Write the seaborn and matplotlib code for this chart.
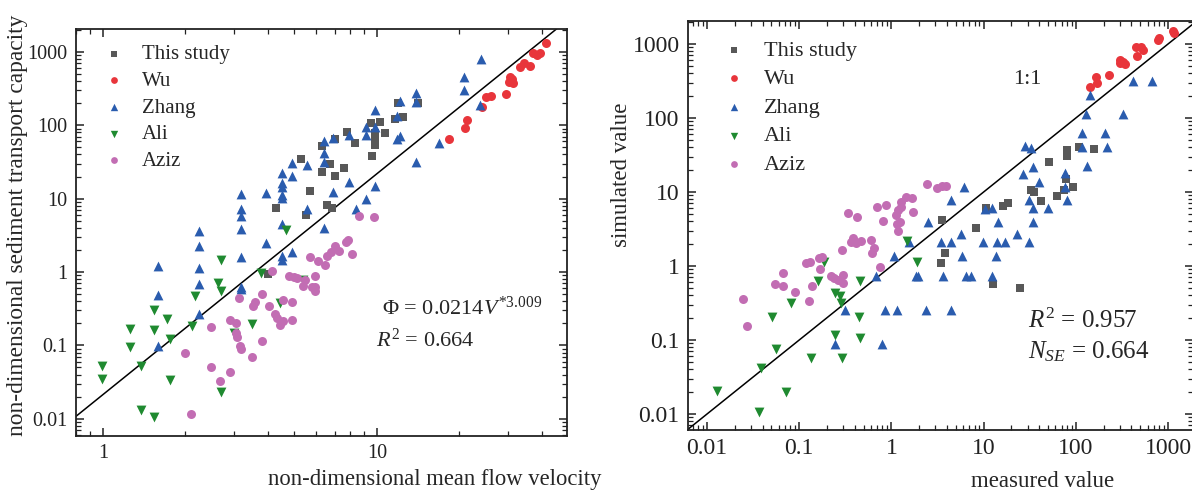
import numpy as np
import pandas as pd
import matplotlib
matplotlib.use("Agg")
import matplotlib.pyplot as plt
import seaborn as sns
from matplotlib.ticker import LogLocator, NullFormatter, FixedLocator, FixedFormatter

# ---------------- data: left panel (V*, Phi) ----------------
ts_v = [4.28, 5.26, 5.69, 5.49, 6.30, 6.31, 6.72, 7.03, 7.03, 6.55, 6.87, 7.60, 7.77, 8.34, 9.51,
        9.86, 9.80, 9.80, 9.61, 10.3, 10.7, 11.6, 12.5, 11.9, 14.1, 3.99]
ts_phi = [7.45, 35.0, 12.8, 5.92, 52.6, 22.8, 29.6, 64.2, 20.3, 8.18, 7.37, 25.8, 80.8, 57.2, 107,
          79.1, 62.9, 54.3, 38.5, 109, 79.1, 122, 128, 199, 203, 0.93]
wu_v = [18.4, 20.9, 21.3, 24.2, 25.1, 26.0, 29.5, 30.3, 30.7, 31.4, 31.0, 33.3, 34.4, 36.2, 37.2,
        38.5, 39.4, 41.4]
wu_phi = [64.2, 90.6, 118, 175, 245, 250, 263, 392, 458, 379, 422, 614, 697, 641, 953, 904, 973, 1303]
zh_v = [24.0, 20.7, 20.7, 23.8, 16.8, 13.9, 13.9, 13.9, 12.1, 11.8, 12.1, 11.8, 9.83, 9.12, 9.83,
        9.09, 7.88, 6.93, 6.42, 6.42, 6.42, 5.54, 4.89, 4.89, 4.51, 4.51, 4.51, 4.51, 4.51, 3.92,
        3.19, 3.19, 3.19, 3.19, 2.24, 6.93, 7.88, 9.83, 9.09, 8.36, 5.54, 4.51, 6.42, 2.24, 3.19,
        3.92, 4.51, 4.51, 4.89, 1.59, 1.59, 1.59, 2.24, 2.24, 2.24, 3.19, 3.19]
zh_phi = [789, 458, 302, 190, 57.8, 272, 209, 31.9, 216, 133, 71.3, 64.2, 160, 95.5, 95.5,
          72.8, 72.8, 66.2, 61.5, 41.4, 31.2, 28.7, 30.9, 20.3, 22.6, 16.1, 14.5, 11.2, 10.1, 12.0,
          11.4, 7.21, 5.85, 3.85, 3.62, 12.4, 17.0, 15.0, 9.88, 7.21, 7.21, 4.46, 3.98, 2.29, 1.62,
          2.51, 1.67, 1.46, 1.85, 1.19, 0.491, 0.099, 1.12, 0.686, 0.268, 0.63, 0.586]
ali_v = [4.65, 2.69, 2.62, 2.69, 3.76, 2.17, 4.41, 5.39, 1.53, 1.71, 2.12, 3.51, 1.75, 1.25, 1.25,
         1.53, 3.02, 1.38, 0.99, 0.99, 1.75, 2.69, 1.38, 1.53]
ali_phi = [3.74, 1.46, 0.716, 0.551, 0.96, 0.466, 0.374, 0.778, 0.303, 0.229, 0.186, 0.198, 0.122,
           0.167, 0.095, 0.160, 0.146, 0.0524, 0.0524, 0.0344, 0.0334, 0.0234, 0.0130, 0.0106]
az_v = [7.86, 7.71, 8.13, 7.29, 7.03, 6.78, 6.59, 5.69, 6.07, 6.46, 5.92, 5.92, 5.95, 5.78, 5.39,
        5.46, 5.12, 4.98, 4.79, 4.15, 3.79, 3.60, 3.52, 3.14, 4.05, 4.55, 4.89, 4.24, 4.30, 4.53,
        4.43, 4.89, 2.91, 3.07, 3.07, 3.09, 3.16, 3.20, 2.47, 3.82, 3.49, 2.00, 2.47, 2.92, 2.67,
        2.09, 8.57, 9.72]
az_phi = [2.73, 2.54, 1.78, 1.93, 2.28, 1.89, 1.67, 1.62, 1.41, 1.25, 0.88, 0.63, 0.557, 0.63, 0.644,
          0.77, 0.82, 0.86, 0.89, 1.03, 0.496, 0.386, 0.348, 0.447, 0.348, 0.411, 0.394, 0.265,
          0.234, 0.215, 0.190, 0.224, 0.222, 0.200, 0.146, 0.130, 0.099, 0.089, 0.180, 0.115,
          0.070, 0.078, 0.0513, 0.0439, 0.033, 0.0116, 5.86, 5.56]

# fitted relation  Phi = a * V^b
fit_a = 0.0214
fit_b = 3.009

# ---------------- data: right panel (measured, simulated) ----------------
ts_meas = [79.8, 81.1, 107, 158, 51.4, 78.0, 93.6, 63.2, 74.7, 33.0, 35.3, 41.7, 18.4, 16.3, 10.6,
           3.58, 8.36, 3.79, 3.43, 12.7, 24.7]
ts_sim = [36.9, 30.7, 41.0, 38.1, 25.7, 14.8, 11.6, 8.83, 10.6, 10.6, 10.1, 7.56, 7.03, 6.47, 6.02,
          4.19, 3.30, 1.48, 1.11, 0.577, 0.509]
wu_meas = [143, 169, 166, 229, 301, 327, 342, 301, 457, 450, 540, 506, 785, 805, 1143, 1170]
wu_sim = [265, 294, 355, 378, 548, 576, 531, 608, 695, 902, 830, 920, 1132, 1217, 1514, 1421]
zh_meas = [412, 669, 142, 128, 321, 116, 208, 118, 217, 131, 28.2, 32.5, 33.9, 26.8, 39.4, 76.6,
           76.6, 81.2, 31.2, 33.9, 50.1, 33.9, 10.4, 12.3, 6.14, 4.48, 2.50, 14.5, 5.70, 23.3, 3.49,
           4.40, 9.88, 14.1, 17.0, 31.2, 1.56, 1.07, 5.89, 13.6, 0.687, 1.87, 1.96, 3.64, 6.41, 7.26,
           12.2, 0.312, 0.853, 1.16, 2.40, 4.48, 0.243, 0.785]
zh_sim = [320, 320, 205, 112, 112, 63.4, 63.4, 41.0, 41.0, 22.5, 41.8, 38.9, 22.0, 17.5, 13.8, 17.9,
          11.6, 7.80, 7.80, 6.14, 6.14, 3.97, 5.89, 6.14, 11.6, 7.80, 3.97, 3.97, 2.71, 2.71, 2.13,
          2.13, 2.13, 2.13, 2.13, 2.13, 2.09, 1.37, 1.37, 1.37, 0.732, 0.740, 0.740, 0.732, 0.732,
          0.732, 0.732, 0.254, 0.254, 0.254, 0.254, 0.254, 0.0883, 0.0883]
ali_meas = [0.186, 1.49, 1.91, 0.161, 0.453, 0.243, 0.277, 0.282, 0.0809, 0.0512, 0.446, 0.243,
            0.453, 0.0556, 0.133, 0.289, 0.0382, 0.0129, 0.0714, 0.0367]
ali_sim = [1.14, 2.18, 1.14, 0.627, 0.627, 0.427, 0.397, 0.313, 0.313, 0.207, 0.207, 0.117, 0.108,
           0.0756, 0.0565, 0.0565, 0.0423, 0.0205, 0.0196, 0.0108]
az_meas = [2.46, 3.16, 3.58, 3.95, 1.43, 1.69, 1.28, 1.26, 0.869, 0.693, 1.72, 1.18, 1.13, 0.341,
           0.428, 0.812, 1.23, 1.19, 0.384, 0.368, 0.410, 0.465, 0.597, 0.289, 0.649, 0.622, 0.164,
           0.178, 0.118, 0.130, 0.747, 0.167, 0.220, 0.239, 0.299, 0.266, 0.299, 0.0668, 0.0542,
           0.0673, 0.139, 0.0901, 0.128, 0.0246, 0.0274, 1.16]
az_sim = [12.7, 11.2, 12.1, 12.1, 8.65, 8.21, 7.40, 6.34, 6.67, 6.21, 5.42, 5.71, 4.89, 5.15, 4.64,
          4.06, 3.97, 2.97, 2.41, 2.13, 2.02, 2.18, 2.25, 1.64, 1.73, 1.48, 1.30, 1.34, 1.09, 1.12,
          0.98, 0.910, 0.740, 0.681, 0.755, 0.647, 0.583, 0.796, 0.565, 0.542, 0.542, 0.441, 0.337,
          0.358, 0.155, 3.66]

series = ["This study", "Wu", "Zhang", "Ali", "Aziz"]
colors = {"This study": "#585858", "Wu": "#e8353b", "Zhang": "#2a5cae",
          "Ali": "#1f8a30", "Aziz": "#c26db3"}
markers = {"This study": "s", "Wu": "o", "Zhang": "^", "Ali": "v", "Aziz": "o"}
sizes = {"This study": 32, "Wu": 42, "Zhang": 50, "Ali": 50, "Aziz": 42}

left_data = {"This study": (ts_v, ts_phi), "Wu": (wu_v, wu_phi), "Zhang": (zh_v, zh_phi),
             "Ali": (ali_v, ali_phi), "Aziz": (az_v, az_phi)}
right_data = {"This study": (ts_meas, ts_sim), "Wu": (wu_meas, wu_sim), "Zhang": (zh_meas, zh_sim),
              "Ali": (ali_meas, ali_sim), "Aziz": (az_meas, az_sim)}

# ---------------- style ----------------
sns.set_style("ticks")
plt.rcParams["font.family"] = ["Liberation Serif", "DejaVu Serif"]
plt.rcParams["mathtext.fontset"] = "custom"
plt.rcParams["mathtext.rm"] = "Liberation Serif"
plt.rcParams["mathtext.it"] = "Liberation Serif:italic"
plt.rcParams["mathtext.bf"] = "Liberation Serif:bold"
plt.rcParams["axes.linewidth"] = 1.3
plt.rcParams["axes.edgecolor"] = "#222222"

fig = plt.figure(figsize=(11.92, 4.93), dpi=100)
ax1 = fig.add_axes([76 / 1192, 1 - 436 / 493, (567 - 76) / 1192, (436 - 29) / 493])
ax2 = fig.add_axes([688 / 1192, 1 - 430 / 493, (1193 - 688) / 1192, (430 - 21) / 493])


def draw(ax, data):
    for name in series:
        x, y = data[name]
        df = pd.DataFrame({"x": x, "y": y})
        sns.scatterplot(data=df, x="x", y="y", ax=ax, marker=markers[name], color=colors[name],
                        s=sizes[name], linewidth=0, label=name, zorder=3)


def style_axes(ax, tick_fs):
    ax.set_xscale("log")
    ax.set_yscale("log")
    ax.tick_params(which="both", direction="in", top=True, right=True, colors="#222222")
    ax.tick_params(which="major", length=6, width=1.1, labelsize=tick_fs, pad=6)
    ax.tick_params(which="minor", length=3.5, width=0.9)
    ax.xaxis.set_minor_locator(LogLocator(base=10, subs=np.arange(2, 10), numticks=20))
    ax.yaxis.set_minor_locator(LogLocator(base=10, subs=np.arange(2, 10), numticks=20))
    ax.xaxis.set_minor_formatter(NullFormatter())
    ax.yaxis.set_minor_formatter(NullFormatter())
    for sp in ax.spines.values():
        sp.set_visible(True)


# ----- left panel -----
draw(ax1, left_data)
xlim1 = (0.797, 49.4)
ax1.set_xlim(*xlim1)
ax1.set_ylim(0.00583, 2046)
vv = np.logspace(np.log10(xlim1[0]), np.log10(xlim1[1]), 200)
ax1.plot(vv, fit_a * vv ** fit_b, color="black", lw=1.1, zorder=2)
style_axes(ax1, 14.5)
ax1.xaxis.set_major_locator(FixedLocator([1, 10]))
ax1.xaxis.set_major_formatter(FixedFormatter(["1", "10"]))
ax1.yaxis.set_major_locator(FixedLocator([0.01, 0.1, 1, 10, 100, 1000]))
ax1.yaxis.set_major_formatter(FixedFormatter(["0.01", "0.1", "1", "10", "100", "1000"]))
ax1.set_xlabel("non-dimensional mean flow velocity", fontsize=16.3)
ax1.xaxis.set_label_coords(0.731, -0.082)
ax1.set_ylabel("non-dimensional sediment transport capacity", fontsize=16.8)
ax1.yaxis.set_label_coords(-0.098, 0.518)
ax1.text(0.623, 0.314, r"$\Phi$ = 0.0214$V^{*3.009}$", transform=ax1.transAxes,
         fontsize=16, va="center", ha="left")
ax1.text(0.611, 0.236, r"$R^2$ = 0.664", transform=ax1.transAxes,
         fontsize=16, va="center", ha="left")
ax1.legend(loc="upper left", bbox_to_anchor=(0.017, 0.982), frameon=False, fontsize=15,
           handletextpad=0.35, labelspacing=0.34, markerscale=0.75, borderaxespad=0)

# ----- right panel -----
draw(ax2, right_data)
xlim2 = (0.00622, 1866)
ax2.set_xlim(*xlim2)
ax2.set_ylim(0.00608, 2046)
oo = np.logspace(np.log10(xlim2[0]), np.log10(xlim2[1]), 50)
ax2.plot(oo, oo, color="black", lw=1.1, zorder=2)
style_axes(ax2, 17)
ax2.xaxis.set_major_locator(FixedLocator([0.01, 0.1, 1, 10, 100, 1000]))
ax2.xaxis.set_major_formatter(FixedFormatter(["0.01", "0.1", "1", "10", "100", "1000"]))
ax2.yaxis.set_major_locator(FixedLocator([0.01, 0.1, 1, 10, 100, 1000]))
ax2.yaxis.set_major_formatter(FixedFormatter(["0.01", "0.1", "1", "10", "100", "1000"]))
ax2.set_xlabel("measured value", fontsize=16.5)
ax2.xaxis.set_label_coords(0.703, -0.1)
ax2.set_ylabel("simulated value", fontsize=16.5)
ax2.yaxis.set_label_coords(-0.11, 0.624)
ax2.text(0.644, 0.858, "1:1", transform=ax2.transAxes, fontsize=16, va="center", ha="left")
ax2.text(0.674, 0.266, r"$R^2$ = 0.957", transform=ax2.transAxes,
         fontsize=18, va="center", ha="left")
ax2.text(0.674, 0.191, r"$N_{SE}$ = 0.664", transform=ax2.transAxes,
         fontsize=18, va="center", ha="left")
ax2.legend(loc="upper left", bbox_to_anchor=(0.03, 0.975), frameon=False, fontsize=16,
           handletextpad=0.35, labelspacing=0.36, markerscale=0.75, borderaxespad=0)

fig.savefig("out.png", dpi=100)
